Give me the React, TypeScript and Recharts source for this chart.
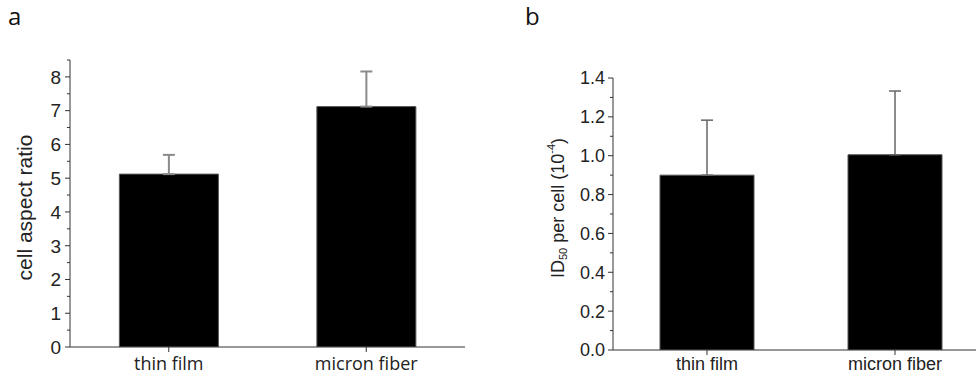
import React from 'react';
import { BarChart, Bar, XAxis, YAxis, ErrorBar } from 'recharts';

const categories = ['thin film', 'micron fiber'];
const aspectRatio = [5.12, 7.12];
const aspectErr = [0.57, 1.04];
const id50 = [0.9, 1.005];
const id50Err = [0.283, 0.328];
const ticksA = [0, 0.5, 1, 1.5, 2, 2.5, 3, 3.5, 4, 4.5, 5, 5.5, 6, 6.5, 7, 7.5, 8, 8.5];
const ticksB = [0, 0.1, 0.2, 0.3, 0.4, 0.5, 0.6, 0.7, 0.8, 0.9, 1.0, 1.1, 1.2, 1.3, 1.4];

const dataA = categories.map((c, i) => ({ name: c, v: aspectRatio[i], e: [0, aspectErr[i]] }));
const dataB = categories.map((c, i) => ({ name: c, v: id50[i], e: [0, id50Err[i]] }));

const AX = '#333';
const TXT = '#222';

const YTickA = (p: any) => {
  const { x, y, payload } = p;
  const v = payload.value;
  const major = Number.isInteger(v);
  return (
    <g>
      <line x1={x - (major ? 5 : 3)} x2={x} y1={y} y2={y} stroke={AX} strokeWidth={1} />
      {major && (
        <text x={x - 9} y={y} dy="0.36em" textAnchor="end" fontSize={19} fontFamily="Liberation Sans, Arial" fill={TXT}>
          {v}
        </text>
      )}
    </g>
  );
};

const YTickB = (p: any) => {
  const { x, y, payload } = p;
  const v = payload.value;
  const major = Math.round(v * 10) % 2 === 0;
  return (
    <g>
      <line x1={x - (major ? 5 : 3)} x2={x} y1={y} y2={y} stroke={AX} strokeWidth={1} />
      {major && (
        <text x={x - 8} y={y} dy="0.36em" textAnchor="end" fontSize={18} fontFamily="Liberation Sans, Arial" fill={TXT}>
          {v.toFixed(1)}
        </text>
      )}
    </g>
  );
};

const makeXTick = (font: string, size: number, dy: number) => (p: any) => {
  const { x, y, payload } = p;
  return (
    <g>
      <line x1={x} x2={x} y1={y} y2={y + 5} stroke={AX} strokeWidth={1} />
      <text x={x} y={y + dy} textAnchor="middle" fontSize={size} fontFamily={font} fill={TXT}>
        {payload.value}
      </text>
    </g>
  );
};

const MinorXTick = (p: any) => {
  const { x, y } = p;
  return <line x1={x} x2={x} y1={y} y2={y + 4} stroke={AX} strokeWidth={1} />;
};

const XTickA = makeXTick('Open Sans', 18, 23);
const XTickB = makeXTick('Liberation Sans, Arial', 18, 20);

const LabelA = (p: any) => {
  const vb = p.viewBox;
  const cx = vb.x + 24;
  const cy = vb.y + vb.height / 2 + 4;
  return (
    <text x={cx} y={cy} transform={`rotate(-90 ${cx} ${cy})`} textAnchor="middle" dominantBaseline="central"
      fontSize={21} fontFamily="Liberation Sans, Arial" fill={TXT}>
      cell aspect ratio
    </text>
  );
};

const LabelB = (p: any) => {
  const vb = p.viewBox;
  const cx = vb.x + 78;
  const cy = vb.y + vb.height / 2 - 6;
  return (
    <text x={cx} y={cy} transform={`rotate(-90 ${cx} ${cy})`} textAnchor="middle" dominantBaseline="central"
      fontSize={18} fontFamily="Liberation Sans, Arial" fill={TXT}>
      ID
      <tspan fontSize={11} dy={5}>50</tspan>
      <tspan dy={-5}> per cell (10</tspan>
      <tspan fontSize={11} dy={-7}>-4</tspan>
      <tspan dy={7}>)</tspan>
    </text>
  );
};

export default function App() {
  return (
    <div style={{ position: 'absolute', left: 0, top: 0, width: 976, height: 375, overflow: 'hidden', background: '#fff' }}>
      <div style={{ position: 'absolute', left: 8, top: 1, fontFamily: 'Open Sans', fontSize: 24, lineHeight: '30px', color: '#111' }}>a</div>
      <div style={{ position: 'absolute', left: 525, top: 1, fontFamily: 'Open Sans', fontSize: 24, lineHeight: '30px', color: '#111' }}>b</div>
      <div style={{ position: 'absolute', left: 0, top: 0 }}>
        <BarChart width={480} height={375} data={dataA} margin={{ top: 60, right: 15, bottom: 0, left: 0 }} barCategoryGap="25%">
          <XAxis xAxisId="minor" type="number" domain={[0, 2]} ticks={[1]} height={0} axisLine={false} tickLine={false}
            tickSize={0} tickMargin={0} tick={<MinorXTick />} />
          <XAxis xAxisId="cat" dataKey="name" height={28} stroke={AX} tickLine={false} tickSize={0} tickMargin={0}
            tick={<XTickA />} interval={0} />
          <YAxis width={70} domain={[0, 8.5]} ticks={ticksA} interval={0} stroke={AX} tickLine={false} tickSize={0}
            tickMargin={0} tick={<YTickA />} label={<LabelA />} allowDataOverflow />
          <Bar xAxisId="cat" dataKey="v" fill="#000" stroke="#555" strokeWidth={1} isAnimationActive={false}>
            <ErrorBar dataKey="e" width={6} stroke="#8a8a8a" strokeWidth={2} isAnimationActive={false} />
          </Bar>
        </BarChart>
      </div>
      <div style={{ position: 'absolute', left: 480, top: 0 }}>
        <BarChart width={520} height={375} data={dataB} margin={{ top: 78, right: 11, bottom: 0, left: 0 }} barCategoryGap="25%">
          <XAxis xAxisId="minor" type="number" domain={[0, 2]} ticks={[1]} height={0} axisLine={false} tickLine={false}
            tickSize={0} tickMargin={0} tick={<MinorXTick />} />
          <XAxis xAxisId="cat" dataKey="name" height={25} stroke={AX} tickLine={false} tickSize={0} tickMargin={0}
            tick={<XTickB />} interval={0} />
          <YAxis width={133} domain={[0, 1.4]} ticks={ticksB} interval={0} stroke={AX} tickLine={false} tickSize={0}
            tickMargin={0} tick={<YTickB />} label={<LabelB />} allowDataOverflow />
          <Bar xAxisId="cat" dataKey="v" fill="#000" stroke="#555" strokeWidth={1} isAnimationActive={false}>
            <ErrorBar dataKey="e" width={6} stroke="#666" strokeWidth={1.5} isAnimationActive={false} />
          </Bar>
        </BarChart>
      </div>
    </div>
  );
}
